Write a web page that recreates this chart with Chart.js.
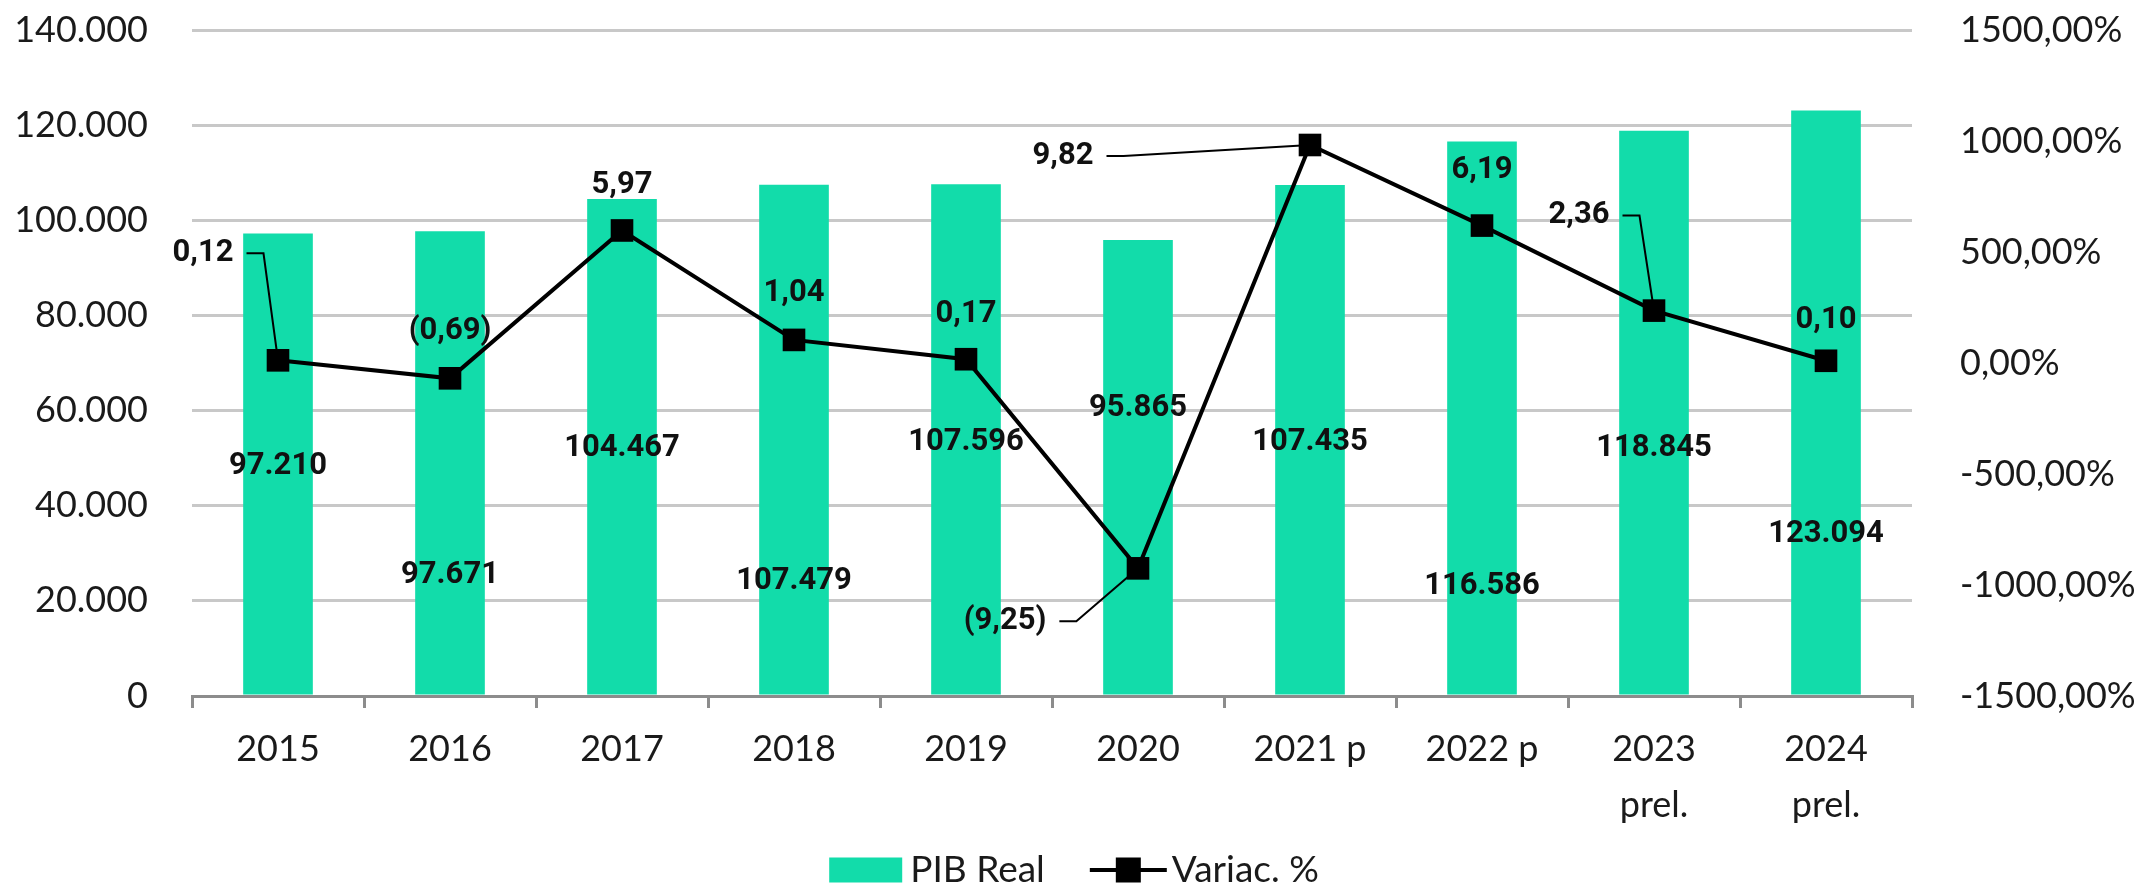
<!DOCTYPE html>
<html>
<head>
<meta charset="utf-8">
<script src="https://cdn.jsdelivr.net/npm/chart.js@4.4.1/dist/chart.umd.min.js"></script>
<style>
  html, body { margin: 0; padding: 0; background: #fff; }
  #wrap { width: 2148px; height: 889px; }
</style>
</head>
<body>
<div id="wrap"><canvas id="pibchart" width="2148" height="889"></canvas></div>
<script>
var anos = ['2015', '2016', '2017', '2018', '2019', '2020', '2021 p', '2022 p', ['2023', 'prel.'], ['2024', 'prel.']];
var pibReal = [97210, 97671, 104467, 107479, 107596, 95865, 107435, 116586, 118845, 123094];
var variacao = [0.12, -0.69, 5.97, 1.04, 0.17, -9.25, 9.82, 6.19, 2.36, 0.10];

// label placement (the labels were dragged around by hand in the original)
var pibLabelAt = [48300, 25400, 52100, 24200, 53300, 60500, 53300, 23100, 52100, 34100];
var varLabelOffset = [[-75, -107], [0, -47], [0, -45], [0, -47], [0, -45], [-133, 53], [-247, 11], [0, -55], [-75, -95], [0, -41]];
var varLeader = [true, false, false, false, false, true, true, false, true, false];

var barColor = '#12dcaa';
var lineColor = '#000000';
var textColor = '#1a1a1a';
var axisFont = "Lato, 'Noto Sans', sans-serif";
var labelFont = "Roboto, 'Liberation Sans', sans-serif";

function fmtMil(v) {
    return String(Math.round(v)).replace(/\B(?=(\d{3})+(?!\d))/g, '.');
}
function fmtVar(v) {
    var s = Math.abs(v).toFixed(2).replace('.', ',');
    return v < 0 ? '(' + s + ')' : s;
}
function fmtPct(v) {
    return (v * 100).toFixed(2).replace('.', ',') + '%';
}

var labelsPlugin = {
    id: 'valueLabels',
    afterDatasetsDraw: function (chart) {
        var ctx = chart.ctx;
        var yScale = chart.scales.y;
        var bars = chart.getDatasetMeta(0).data;
        var pts = chart.getDatasetMeta(1).data;
        ctx.save();
        ctx.font = 'bold 31px ' + labelFont;
        ctx.fillStyle = '#111';
        ctx.textAlign = 'center';
        ctx.textBaseline = 'middle';
        bars.forEach(function (bar, i) {
            ctx.fillText(fmtMil(pibReal[i]), bar.x, yScale.getPixelForValue(pibLabelAt[i]));
        });
        ctx.strokeStyle = '#000';
        ctx.lineWidth = 2;
        pts.forEach(function (pt, i) {
            var tx = pt.x + varLabelOffset[i][0];
            var ty = pt.y + varLabelOffset[i][1];
            var txt = fmtVar(variacao[i]);
            ctx.fillText(txt, tx, ty);
            if (varLeader[i]) {
                var x0 = tx + ctx.measureText(txt).width / 2 + 13;
                ctx.beginPath();
                ctx.moveTo(x0, ty);
                ctx.lineTo(x0 + 17, ty);
                ctx.lineTo(pt.x, pt.y);
                ctx.stroke();
            }
        });
        ctx.restore();
    }
};

var legendPlugin = {
    id: 'bottomLegend',
    afterDraw: function (chart) {
        var ctx = chart.ctx;
        var cy = 870;
        var t1 = chart.data.datasets[0].label;
        var t2 = chart.data.datasets[1].label;
        ctx.save();
        ctx.font = '37px ' + axisFont;
        ctx.textBaseline = 'middle';
        var w1 = ctx.measureText(t1).width;
        var w2 = ctx.measureText(t2).width;
        var total = 73 + 8 + w1 + 45 + 77 + 5 + w2;
        var x = chart.width / 2 - total / 2;
        ctx.fillStyle = barColor;
        ctx.fillRect(x, cy - 12.5, 73, 25);
        x += 81;
        ctx.fillStyle = textColor;
        ctx.fillText(t1, x, cy);
        x += w1 + 45;
        ctx.strokeStyle = lineColor;
        ctx.lineWidth = 4;
        ctx.beginPath();
        ctx.moveTo(x, cy);
        ctx.lineTo(x + 77, cy);
        ctx.stroke();
        ctx.fillStyle = lineColor;
        ctx.fillRect(x + 38.5 - 12.5, cy - 12.5, 25, 25);
        x += 82;
        ctx.fillStyle = textColor;
        ctx.fillText(t2, x, cy);
        ctx.restore();
    }
};

var ctx = document.getElementById('pibchart').getContext('2d');
var chart = new Chart(ctx, {
    type: 'bar',
    data: {
        labels: anos,
        datasets: [{
            type: 'bar',
            label: 'PIB Real',
            data: pibReal,
            backgroundColor: barColor,
            yAxisID: 'y',
            barPercentage: 0.405,
            categoryPercentage: 1,
            order: 2
        }, {
            type: 'line',
            label: 'Variac. %',
            data: variacao,
            yAxisID: 'y1',
            borderColor: lineColor,
            borderWidth: 4,
            pointStyle: 'rect',
            pointRadius: 16,
            pointBackgroundColor: lineColor,
            pointBorderWidth: 0,
            tension: 0,
            order: 1
        }]
    },
    options: {
        responsive: false,
        animation: false,
        layout: { padding: { top: 30, bottom: 43, left: 0, right: 0 } },
        plugins: {
            legend: { display: false },
            tooltip: { enabled: false }
        },
        scales: {
            x: {
                grid: { drawOnChartArea: false, drawTicks: true, tickLength: 12, color: '#8c8c8c', lineWidth: 3 },
                border: { color: '#8c8c8c', width: 3 },
                ticks: {
                    font: { family: axisFont, size: 36, lineHeight: 1.556 },
                    color: textColor,
                    padding: 13,
                    maxRotation: 0,
                    autoSkip: false
                },
                afterFit: function (s) { s.height = 150; }
            },
            y: {
                position: 'left',
                min: 0,
                max: 140000,
                ticks: {
                    stepSize: 20000,
                    callback: fmtMil,
                    padding: 0,
                    font: { family: axisFont, size: 36 },
                    color: textColor
                },
                // invisible tick marks give the gap between labels and plot
                grid: { color: '#c8c8c8', lineWidth: 3, drawTicks: true, tickLength: 44, tickColor: 'rgba(0,0,0,0)' },
                border: { display: false },
                afterFit: function (s) { s.width = 192; }
            },
            y1: {
                position: 'right',
                min: -15,
                max: 15,
                ticks: {
                    stepSize: 5,
                    callback: fmtPct,
                    padding: 0,
                    font: { family: axisFont, size: 36 },
                    color: textColor
                },
                grid: { display: false, drawTicks: true, tickLength: 48 },
                border: { display: false },
                afterFit: function (s) { s.width = 236; }
            }
        }
    },
    plugins: [labelsPlugin, legendPlugin]
});
</script>
</body>
</html>
